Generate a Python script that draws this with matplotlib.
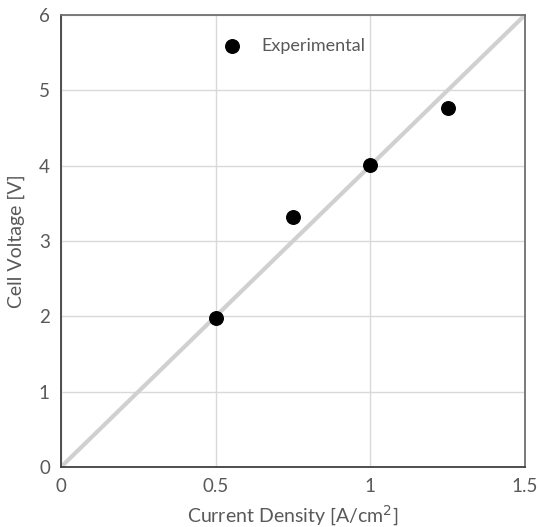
import matplotlib.pyplot as plt

plt.rcParams['font.family'] = ['Lato', 'DejaVu Sans']

# experimental data
current_density = [0.5, 0.75, 1.0, 1.25]
cell_voltage = [1.98, 3.32, 4.01, 4.77]

# reference line
line_x = [0, 1.5]
line_y = [0, 6]

x_ticks = [0, 0.5, 1, 1.5]
x_labels = ["0", "0.5", "1", "1.5"]
y_ticks = [0, 1, 2, 3, 4, 5, 6]

text_color = "#595959"

fig = plt.figure(figsize=(5.39, 5.27), dpi=100)
ax = fig.add_axes([61 / 539, 60 / 527, 464 / 539, 452 / 527])

ax.plot(line_x, line_y, color="#D0D0D0", linewidth=3, zorder=2)
ax.scatter(current_density, cell_voltage, s=95, color="black",
           zorder=3, label="Experimental")

ax.set_xlim(0, 1.5)
ax.set_ylim(0, 6)
ax.set_xticks(x_ticks)
ax.set_xticklabels(x_labels)
ax.set_yticks(y_ticks)
ax.grid(True, color="#D9D9D9", linewidth=1.0, zorder=0)
ax.set_axisbelow(True)

for side in ["left", "bottom"]:
    ax.spines[side].set_color("#404040")
    ax.spines[side].set_linewidth(1.3)
for side in ["top", "right"]:
    ax.spines[side].set_color("#707070")
    ax.spines[side].set_linewidth(1.3)

ax.tick_params(length=0, labelsize=13.5, colors=text_color, pad=8)
ax.set_xlabel("Current Density [A/cm$^2$]", fontsize=14, color=text_color, labelpad=6)
ax.set_ylabel("Cell Voltage [V]", fontsize=14, color=text_color, labelpad=10)

ax.legend(loc="upper left", bbox_to_anchor=(0.295, 0.985), frameon=False,
          fontsize=13, labelcolor=text_color, handletextpad=0.6)

fig.savefig("out.png", dpi=100)
